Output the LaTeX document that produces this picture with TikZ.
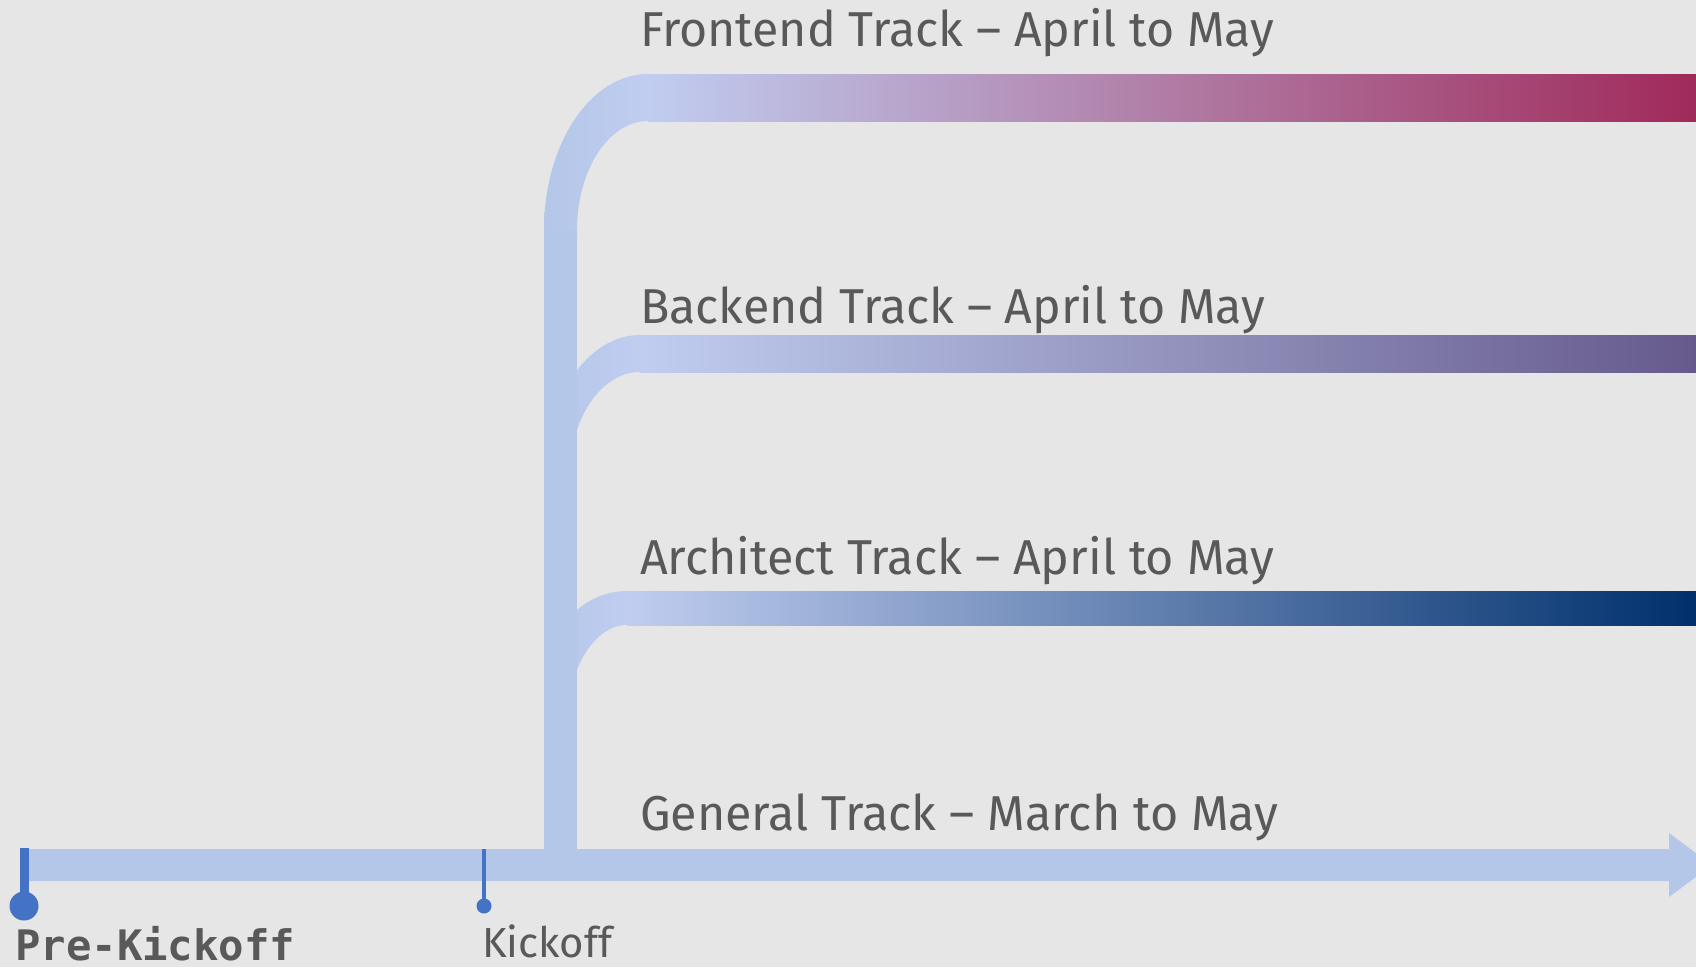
\documentclass[tikz,border=0pt]{standalone}
\usepackage{fontspec}
\setmainfont{Fira Sans}
\newfontfamily\plexmono{DejaVu Sans Mono}
\definecolor{bg}{HTML}{E6E6E6}
\definecolor{trunk}{HTML}{B4C7E8}
\definecolor{light}{HTML}{C0CDF0}
\definecolor{frontc}{HTML}{A02A5A}
\definecolor{backc}{HTML}{665A8C}
\definecolor{archc}{HTML}{00306C}
\definecolor{txt}{HTML}{595959}
\definecolor{tick}{HTML}{4472C4}
\begin{document}
\begin{tikzpicture}[x=1pt,y=-1pt,
  lbl/.style={anchor=base west, inner sep=0pt, text=txt},
  dot/.style={circle, fill=tick, inner sep=0pt},
  ticklink/.style={draw=tick, line cap=butt},
  curvepart/.style={left color=trunk, right color=light},
]
\useasboundingbox (0,0) rectangle (1696,967);
\fill[bg] (0,0) rectangle (1696,967);
\begin{scope}
\clip (0,0) rectangle (1696,967);
% Frontend branch
\shade[curvepart] (544,240) -- (544,230) .. controls (544,143.8) and (590.6,74) .. (648,74) -- (650,74) -- (650,121) -- (648,121) .. controls (608.8,121) and (577,169.8) .. (577,230) -- (577,240) -- cycle;
\shade[left color=light, right color=frontc] (648,74) rectangle (1696,121);
% Backend branch
\shade[curvepart] (544,490) -- (544,479) .. controls (544,399.5) and (587,335) .. (640,335) -- (642,335) -- (642,372) -- (640,372) .. controls (601.3,372) and (570,418.1) .. (570,475) -- (570,490) -- cycle;
\shade[left color=light, right color=backc] (640,335) rectangle (1696,372);
% Architect branch
\shade[curvepart] (544,700) -- (544,685) .. controls (544,633.1) and (581.2,591) .. (627,591) -- (629,591) -- (629,625) -- (627,625) .. controls (593.9,625) and (567,669.8) .. (567,725) -- (567,730) -- cycle;
\shade[left color=light, right color=archc] (627,591) rectangle (1696,625);
% Trunk
\fill[trunk] (544,230) rectangle (577,870);
% Main arrow
\fill[trunk] (20,849) -- (1669,849) -- (1669,833) -- (1712,865) -- (1669,897) -- (1669,881) -- (20,881) -- cycle;
\end{scope}
% Milestones
\coordinate (pretop) at (24,848);
\node[dot, minimum size=29pt] (predot) at (24,906) {};
\draw[ticklink, line width=9pt] (pretop) -- (predot.center);
\coordinate (kicktop) at (484,849);
\node[dot, minimum size=15pt] (kickdot) at (484,906) {};
\draw[ticklink, line width=4pt] (kicktop) -- (kickdot.center);
% Labels
\node[lbl] (front) at (640,46) {\resizebox{634pt}{\height}{\fontsize{49}{55}\selectfont Frontend Track – April to May}};
\node[lbl] (back) at (640,323) {\resizebox{625pt}{\height}{\fontsize{49}{55}\selectfont Backend Track – April to May}};
\node[lbl] (arch) at (640,574) {\resizebox{634pt}{\height}{\fontsize{49}{55}\selectfont Architect Track – April to May}};
\node[lbl] (gen) at (640,830) {\resizebox{638pt}{\height}{\fontsize{49}{55}\selectfont General Track – March to May}};
\node[lbl] (kick) at (482,957) {\resizebox{130pt}{\height}{\fontsize{42}{48}\selectfont Kickoff}};
\node[lbl] (pre) at (15,960) {\resizebox{280pt}{\height}{\plexmono\bfseries\fontsize{42}{48}\selectfont Pre-Kickoff}};
\end{tikzpicture}
\end{document}
